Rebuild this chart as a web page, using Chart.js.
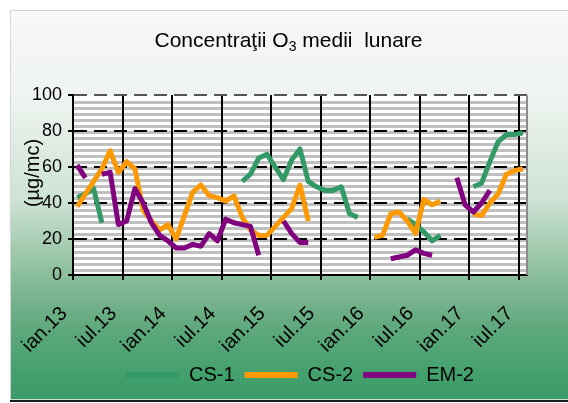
<!DOCTYPE html>
<html>
<head>
<meta charset="utf-8">
<title>Concentratii O3 medii lunare</title>
<script src="https://cdn.jsdelivr.net/npm/chart.js@4.4.0/dist/chart.umd.min.js"></script>
<style>
  body { margin: 0; width: 568px; height: 403px; overflow: hidden; background: #fff; position: relative; }
  .frame {
    position: absolute; left: 10px; top: 10px; width: 570px; height: 388px;
    border-top: 1px solid #d6d6d6; border-left: 1px solid #d6d6d6; border-bottom: 1px solid #cfdcd4;
    box-shadow: 0 2px 0 #1c1c1c;
    background: linear-gradient(to bottom, #f7f8f7 0%, #eff4f0 22%, #cde2d4 49%, #88bc98 69%, #5ea87c 82%, #42a06c 94%, #3b9b67 100%);
  }
  canvas { position: absolute; left: 0; top: 0; }
</style>
</head>
<body>
<div class="frame"></div>
<canvas id="myChart" width="568" height="403"></canvas>
<script>
const months = ['ian', 'feb', 'mar', 'apr', 'mai', 'iun', 'iul', 'aug', 'sep', 'oct', 'noi', 'dec'];
const years = ['13', '14', '15', '16', '17'];
const lastCategory = 'iul.17';
const labelStep = 6;

const yTicks = [0, 20, 40, 60, 80, 100];

// CS-1
const cs1 = [43, 45, 48, 29,
  null, null, null, null, null, null, null, null, null, null, null, null, null, null, null, null,
  52, 56, 65, 67, 60, 53, 64, 70, 52, 49, 47, 47, 49, 34, 32,
  null, null, null, null, null,
  31, 28, 24, 19, 22,
  null, null, null,
  49, 51, 63, 74, 78, 78, 79];

// CS-2
const cs2 = [38, 45, 52, 59, 69, 57, 63, 59, 36, 30, 25, 28, 20, 33, 46, 50, 44, 43, 41, 44,
  32, 25, 22, 22, 27, 32, 37, 50, 30,
  null, null, null, null, null, null, null,
  21, 22, 34, 35, 30, 23, 42, 39, 41,
  null, null, null,
  34, 33, 40, 45, 56, 58, 59];

// EM-2
const em2 = [61, 54, null,
  56, 57, 28, 30, 48, 40, 29, 22, 19, 15, 15, 17, 16, 23, 19, 31, 29, 28, 27, 11,
  null, null,
  30, 23, 18, 18,
  null, null, null, null, null, null, null, null, null,
  9, 10, 11, 14, 12, 11,
  null, null,
  54, 39, 35, 40, 47,
  null, null, null, null];

let categories = [];
for (let y = 0; y < years.length; y++) {
  for (let m = 0; m < months.length; m++) {
    categories.push(months[m] + '.' + years[y]);
  }
}
categories = categories.slice(0, categories.indexOf(lastCategory) + 1);

const fontName = '"Liberation Sans", Arial, sans-serif';
Chart.defaults.font.family = fontName;
Chart.defaults.color = '#000';

// striped plot area + grey right edge
const plotBackground = {
  id: 'plotBackground',
  beforeDraw(chart) {
    const ctx = chart.ctx;
    const a = chart.chartArea;
    ctx.save();
    ctx.fillStyle = '#fff';
    ctx.fillRect(a.left, a.top, a.width, a.height);
    ctx.fillStyle = '#c0c0c0';
    for (let y = a.bottom - 6; y > a.top; y -= 6) {
      ctx.fillRect(a.left, y, a.width, 3);
    }
    ctx.restore();
  },
  beforeDatasetsDraw(chart) {
    const ctx = chart.ctx;
    const a = chart.chartArea;
    ctx.save();
    ctx.strokeStyle = '#8c8c8c';
    ctx.lineWidth = 2;
    ctx.beginPath();
    ctx.moveTo(a.right, a.top);
    ctx.lineTo(a.right, a.bottom);
    ctx.stroke();
    ctx.restore();
  }
};

// title with subscript and the y axis title
const texts = {
  id: 'texts',
  afterDraw(chart) {
    const ctx = chart.ctx;
    ctx.save();
    ctx.fillStyle = '#000';
    ctx.textBaseline = 'alphabetic';
    const big = '21px ' + fontName;
    const small = '14px ' + fontName;
    const part1 = 'Concentraţii O';
    const part2 = '3';
    const part3 = ' medii  lunare';
    ctx.font = big;
    const w1 = ctx.measureText(part1).width;
    const w3 = ctx.measureText(part3).width;
    ctx.font = small;
    const w2 = ctx.measureText(part2).width;
    let x = 288.5 - (w1 + w2 + w3) / 2;
    const base = 47;
    ctx.font = big;
    ctx.fillText(part1, x, base);
    x += w1;
    ctx.font = small;
    ctx.fillText(part2, x, base + 4);
    x += w2;
    ctx.font = big;
    ctx.fillText(part3, x, base);

    ctx.translate(33, 173);
    ctx.rotate(-Math.PI / 2);
    ctx.textAlign = 'center';
    ctx.textBaseline = 'middle';
    ctx.font = '20px ' + fontName;
    ctx.fillText('(µg/mc)', 0, 0);
    ctx.restore();
  }
};

function gridColor(c) {
  return c.index % labelStep === 0 ? '#000' : 'rgba(0,0,0,0)';
}

const ctx = document.getElementById('myChart');

new Chart(ctx, {
  type: 'line',
  data: {
    labels: categories,
    datasets: [
      { label: 'CS-1', data: cs1, borderColor: '#339966', backgroundColor: '#339966', order: 3 },
      { label: 'CS-2', data: cs2, borderColor: '#ff9900', backgroundColor: '#ff9900', order: 2 },
      { label: 'EM-2', data: em2, borderColor: '#800080', backgroundColor: '#800080', order: 1 }
    ]
  },
  options: {
    responsive: false,
    animation: false,
    layout: { padding: { top: 95, left: 10, right: 41, bottom: 8 } },
    elements: {
      line: { borderWidth: 5, tension: 0, borderJoinStyle: 'round', borderCapStyle: 'butt' },
      point: { radius: 0, hoverRadius: 0 }
    },
    spanGaps: false,
    scales: {
      x: {
        type: 'category',
        offset: true,
        grid: { offset: true, color: gridColor, tickColor: gridColor, lineWidth: 2, tickLength: 5 },
        border: { color: '#000', width: 2 },
        ticks: {
          autoSkip: false,
          minRotation: 45,
          maxRotation: 45,
          padding: 22,
          labelOffset: -13,
          font: { size: 20 },
          callback: function(value, index) {
            return index % labelStep === 0 ? this.getLabelForValue(value) : '';
          }
        },
        afterFit(scale) { scale.height = 80; }
      },
      y: {
        min: yTicks[0],
        max: yTicks[yTicks.length - 1],
        afterBuildTicks(scale) { scale.ticks = yTicks.map(v => ({ value: v })); },
        grid: {
          color: c => (c.tick && c.tick.value === 100 ? '#555' : '#000'),
          tickColor: '#000',
          lineWidth: 2,
          tickLength: 5,
          tickBorderDash: []
        },
        border: { color: '#000', width: 2, dash: [13, 7] },
        ticks: { padding: 6, font: { size: 18 } },
        afterFit(scale) { scale.width = 63; }
      }
    },
    plugins: {
      title: { display: false },
      tooltip: { enabled: false },
      legend: {
        position: 'bottom',
        fullSize: false,
        labels: {
          boxWidth: 53,
          boxHeight: 6,
          padding: 10,
          font: { size: 20 },
          color: '#000',
          sort: (a, b) => a.datasetIndex - b.datasetIndex,
          generateLabels(chart) {
            const items = Chart.defaults.plugins.legend.labels.generateLabels(chart);
            items.forEach(item => { item.lineWidth = 0; });
            return items;
          }
        }
      }
    }
  },
  plugins: [plotBackground, texts]
});
</script>
</body>
</html>
